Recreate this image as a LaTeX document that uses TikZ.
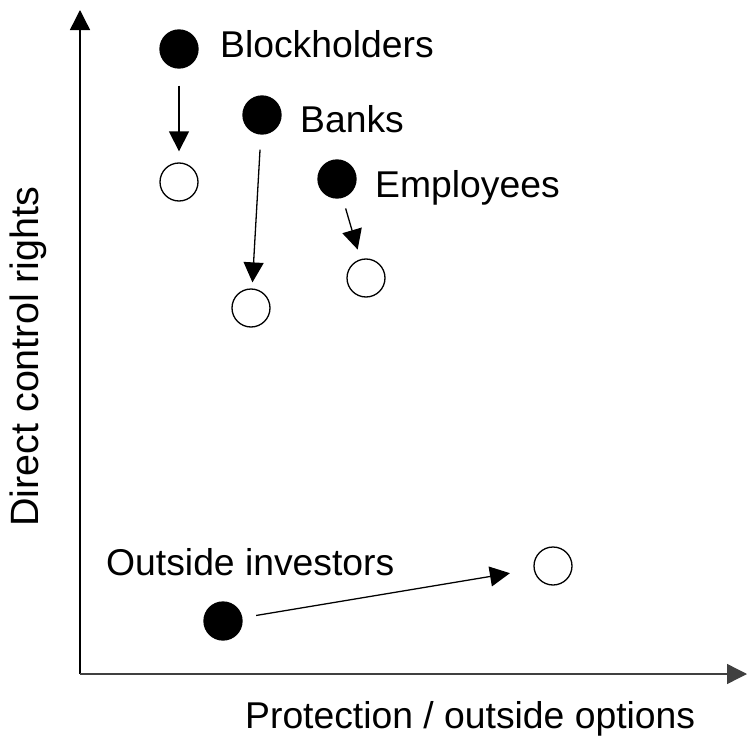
\documentclass[tikz,border=0pt]{standalone}
\usepackage{fontspec}
\setmainfont{Liberation Sans}
\usetikzlibrary{arrows.meta}
\begin{document}
\begin{tikzpicture}[x=1pt,y=-1pt,
  dot/.style={circle,draw,line width=1.3pt,minimum size=38pt,inner sep=0pt},
  before/.style={dot,fill=black},
  after/.style={dot,fill=white},
  move/.style={line width=1.3pt,-{Triangle[length=20pt,width=20pt]}},
  axis/.style={line width=1.4pt,-{Triangle[length=20pt,width=20pt]}},
  lbl/.style={anchor=base west,inner sep=0pt,font=\fontsize{37.3}{44}\selectfont}]
  \useasboundingbox (0,0) rectangle (748,744);

  % axes
  \coordinate (origin) at (80,674);
  \coordinate (ytip) at (80,10);
  \coordinate (xtip) at (747,674);
  \draw[axis] (origin) -- (ytip);
  \draw[axis,draw=black!75] (origin) -- (xtip);
  \node[lbl] (xlabel) at (245,728) {Protection / outside options};
  \node[lbl,rotate=90,font=\fontsize{39.5}{46}\selectfont] (ylabel) at (38,527) {Direct control rights};

  % positions before (filled) and after (open)
  \node[before] (bh1) at (179,49) {};
  \node[after]  (bh2) at (179,182) {};
  \node[before] (bk1) at (262,115) {};
  \node[after]  (bk2) at (251,308) {};
  \node[before] (em1) at (337,179) {};
  \node[after]  (em2) at (366,278) {};
  \node[before] (oi1) at (223,621) {};
  \node[after]  (oi2) at (553,566) {};

  % labels
  \node[lbl] (bhl) at (220,57) {Blockholders};
  \node[lbl] (bkl) at (300,132) {Banks};
  \node[lbl] (eml) at (375,197) {Employees};
  \node[lbl] (oil) at (106,575) {Outside investors};

  % moves
  \draw[move,shorten <=17pt,shorten >=11pt] (bh1) -- (bh2);
  \draw[move,shorten <=15pt,shorten >=6pt] (bk1) -- (bk2);
  \draw[move,shorten <=11pt,shorten >=10pt] (em1) -- (em2);
  \draw[move,shorten <=14pt,shorten >=24pt] (oi1) -- (oi2);
\end{tikzpicture}
\end{document}
